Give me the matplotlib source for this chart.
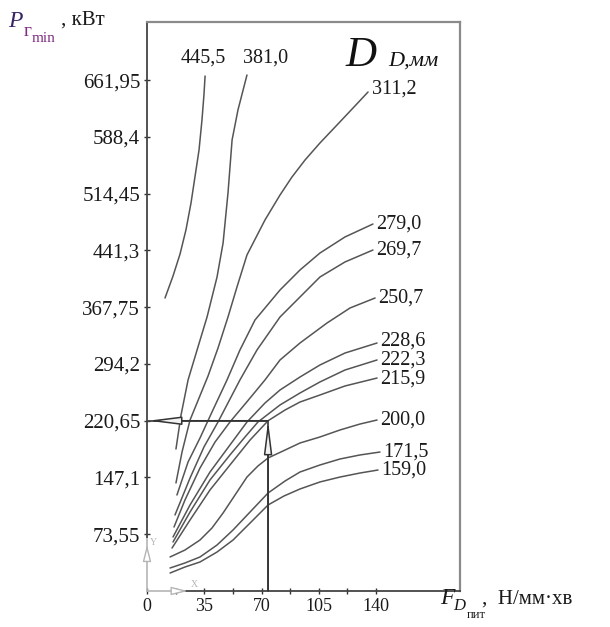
import matplotlib
matplotlib.use("Agg")
import matplotlib.pyplot as plt

# номограмма: P_г min от F_D пит для разных D_D
f_445 = [11.0, 15.9, 20.2, 23.8, 26.9, 29.3, 31.8, 33.6, 34.8, 35.5]
p_445 = [379.7, 408.2, 436.8, 467.9, 502.8, 536.5, 571.5, 610.4, 642.8, 667.4]

f_381 = [17.7, 20.8, 25.1, 30.6, 36.7, 42.8, 46.5, 49.5, 52.0, 55.6, 61.1]
p_381 = [184.0, 228.1, 273.5, 312.3, 355.1, 406.9, 451.0, 515.8, 584.5, 623.4, 668.7]

f_311 = [17.7, 21.4, 26.3, 31.8, 37.3, 43.4, 49.5, 55.0, 61.1, 72.1, 81.3, 88.6, 96.6, 105.7, 116.7, 127.1, 135.1]
p_311 = [140.0, 180.1, 221.6, 250.1, 278.6, 314.9, 355.1, 394.0, 435.5, 480.8, 513.2, 536.5, 558.6, 580.6, 605.2, 628.6, 646.7]

f_279 = [18.3, 25.1, 32.4, 40.3, 48.9, 56.8, 66.0, 81.3, 93.5, 105.7, 121.0, 138.1]
p_279 = [124.4, 167.2, 198.3, 234.6, 273.5, 312.3, 351.2, 390.1, 416.0, 438.0, 458.8, 475.6]

f_269 = [17.1, 26.3, 34.8, 43.4, 56.8, 67.2, 81.3, 93.5, 105.7, 121.0, 138.1]
p_269 = [98.5, 146.4, 186.6, 219.0, 273.5, 312.3, 355.1, 381.0, 406.9, 426.4, 441.9]

f_250 = [16.5, 23.2, 32.4, 41.6, 50.7, 63.0, 72.1, 81.3, 93.5, 110.0, 124.1, 139.4]
p_250 = [82.9, 117.9, 159.4, 193.1, 219.0, 250.1, 273.5, 299.4, 321.4, 347.3, 366.8, 379.7]

f_228 = [15.9, 26.3, 38.5, 50.7, 61.1, 72.1, 81.3, 93.5, 105.7, 121.0, 140.6]
p_228 = [70.0, 111.5, 154.2, 189.2, 219.0, 243.6, 260.5, 277.3, 292.9, 308.4, 321.4]

f_222 = [15.9, 26.3, 38.5, 50.7, 59.9, 67.8, 81.3, 93.5, 105.7, 121.0, 140.6]
p_222 = [63.5, 102.4, 143.9, 176.3, 199.6, 219.0, 241.1, 256.6, 270.9, 286.4, 299.4]

f_215 = [15.3, 26.3, 38.5, 50.7, 63.0, 74.0, 84.4, 93.5, 105.7, 121.0, 140.6]
p_215 = [55.7, 92.0, 130.9, 163.3, 195.7, 220.65, 234.6, 244.9, 254.0, 265.7, 276.0]

f_200 = [14.1, 23.2, 32.4, 39.7, 46.5, 53.8, 61.1, 67.8, 74.0, 84.4, 93.5, 105.7, 118.0, 130.2, 140.6]
p_200 = [44.1, 53.1, 66.1, 81.6, 101.1, 124.4, 147.7, 162.0, 172.4, 182.7, 191.8, 199.6, 208.7, 216.4, 221.6]

f_171 = [14.1, 23.2, 32.4, 42.8, 52.6, 63.0, 74.0, 84.4, 93.5, 105.7, 118.0, 130.2, 142.4]
p_171 = [29.8, 36.3, 44.1, 59.6, 79.1, 102.4, 127.0, 142.6, 154.2, 163.3, 171.1, 176.3, 180.1]

f_159 = [14.1, 23.2, 32.4, 42.8, 52.6, 63.0, 74.0, 83.7, 93.5, 105.7, 118.0, 130.2, 141.2]
p_159 = [23.3, 31.1, 37.6, 50.5, 66.1, 88.1, 111.5, 123.1, 132.2, 141.3, 147.7, 152.9, 156.8]

d_labels = ["445,5", "381,0", "311,2", "279,0", "269,7", "250,7",
            "228,6", "222,3", "215,9", "200,0", "171,5", "159,0"]

y_ticks = [73.55, 147.1, 220.65, 294.2, 367.75, 441.3, 514.45, 588.4, 661.95]
y_tick_labels = ["73,55", "147,1", "220,65", "294,2", "367,75", "441,3", "514,45", "588,4", "661,95"]
x_ticks = [0, 35, 70, 105, 140]
x_minor = [17.5, 52.5, 87.5, 122.5]

# выбранная точка (стрелки)
f_sel = 74.0
p_sel = 220.65

plt.rcParams['font.family'] = ['Liberation Serif', 'DejaVu Serif']

fig = plt.figure(figsize=(6.1, 6.27), dpi=100)
ax = fig.add_axes([147 / 610, 1 - 591 / 627, 313 / 610, 569 / 627])
ax.set_xlim(0, 191.3)
ax.set_ylim(0, 737.4)

curves = [(f_445, p_445), (f_381, p_381), (f_311, p_311), (f_279, p_279),
          (f_269, p_269), (f_250, p_250), (f_228, p_228), (f_222, p_222),
          (f_215, p_215), (f_200, p_200), (f_171, p_171), (f_159, p_159)]

# смещения подписей от конца кривой (пт)
offsets = {"445,5": ((-1.5, 13), "center"), "381,0": ((13.5, 12), "center"),
           "311,2": ((3, 2), "left"), "228,6": ((2, 1.5), "left"),
           "215,9": ((2, -1), "left")}

for (f, p), lab in zip(curves, d_labels):
    ax.plot(f, p, color="#555555", lw=1.1, solid_capstyle="round", solid_joinstyle="round")
    off, ha = offsets.get(lab, ((2, 0), "left"))
    ax.annotate(lab, xy=(f[-1], p[-1]), xytext=off, textcoords="offset points",
                ha=ha, va="center", fontsize=14.5, color="#1a1a1a")

# стрелки
ax.plot([f_sel, f_sel, 0], [0, p_sel, p_sel], color="#444444", lw=1.3)
arr = dict(arrowstyle="-|>,head_length=2.0,head_width=0.25", mutation_scale=10,
           fc="#f2f2f2", ec="#333333", lw=1.1, shrinkA=0, shrinkB=0)
ax.annotate("", xy=(0.5, p_sel), xytext=(f_sel, p_sel), arrowprops=arr)
ax.annotate("", xy=(f_sel, p_sel), xytext=(f_sel, 0), arrowprops=arr)

# значок системы координат
ucs = dict(arrowstyle="-|>,head_length=1.0,head_width=0.25", mutation_scale=10,
           fc="white", ec="#b5b5b5", lw=1.0, shrinkA=0, shrinkB=0)
ax.plot([0, 0], [0, 70], color="#b5b5b5", lw=1.2, clip_on=False)
ax.plot([0, 19], [0, 0], color="#b5b5b5", lw=1.2, clip_on=False)
ax.annotate("", xy=(0, 60), xytext=(0, 44), arrowprops=ucs)
ax.annotate("", xy=(25, 0), xytext=(18, 0), arrowprops=ucs)
ax.text(2, 63, "Y", fontsize=7, color="#b5b5b5", ha="left", va="center")
ax.text(27, 8, "X", fontsize=7, color="#b5b5b5", ha="left", va="center")

for s in ["left", "bottom"]:
    ax.spines[s].set_color("#444444")
    ax.spines[s].set_linewidth(1.3)
for s in ["top", "right"]:
    ax.spines[s].set_color("#8a8a8a")
    ax.spines[s].set_linewidth(1.6)
ax.spines["left"].set_bounds(70, 737.4)
ax.spines["bottom"].set_bounds(19, 191.3)

ax.set_yticks(y_ticks)
ax.set_yticklabels(y_tick_labels)
ax.set_xticks(x_ticks)
ax.set_xticks(x_minor, minor=True)
ax.set_xticklabels([str(v) for v in x_ticks])
ax.tick_params(direction="inout", length=5, width=1.0, color="#333333",
               labelcolor="#1a1a1a", pad=2.5)
ax.tick_params(axis="y", labelsize=15)
ax.tick_params(axis="x", labelsize=13)
ax.tick_params(axis="x", which="minor", direction="inout", length=5, width=1.0, color="#333333")

# подписи осей
fig.text(8 / 610, 1 - 27 / 627, "P", style="italic", fontsize=17, color="#3a2466", va="baseline")
fig.text(24 / 610, 1 - 36 / 627, "г", fontsize=14, color="#7e2f80", va="baseline")
fig.text(32 / 610, 1 - 42 / 627, "min", fontsize=11, color="#7e2f80", va="baseline")
fig.text(61 / 610, 1 - 25 / 627, ", кВт", fontsize=15, color="#1a1a1a", va="baseline")

fig.text(440 / 610, 1 - 604 / 627, "F", style="italic", fontsize=17, color="#1a1a1a", va="baseline")
fig.text(453 / 610, 1 - 610 / 627, "D", style="italic", fontsize=12, color="#1a1a1a", va="baseline")
fig.text(467 / 610, 1 - 618 / 627, "пит", fontsize=9, color="#1a1a1a", va="baseline")
fig.text(482 / 610, 1 - 604 / 627, ",  Н/мм·хв", fontsize=15, color="#1a1a1a", va="baseline")

fig.text(345 / 610, 1 - 66 / 627, "D", style="italic", fontsize=31, color="#111111", va="baseline")
fig.text(388 / 610, 1 - 66 / 627, "D,мм", style="italic", fontsize=16, color="#111111", va="baseline")

fig.savefig("out.png", dpi=100)
